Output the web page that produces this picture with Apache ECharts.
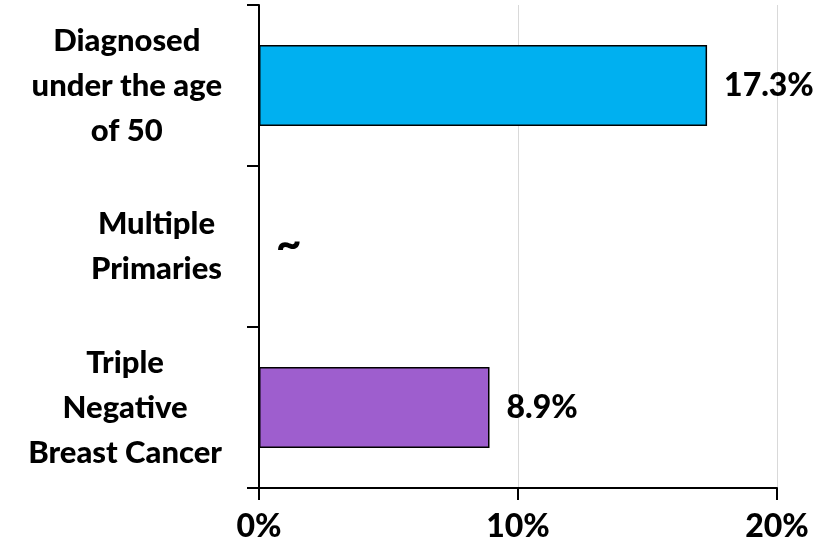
<!DOCTYPE html>
<html>
<head>
<meta charset="utf-8">
<script src="https://cdn.jsdelivr.net/npm/echarts@6/dist/echarts.min.js"></script>
<style>
  html, body { margin: 0; padding: 0; background: #fff; }
  #chart { width: 825px; height: 553px; }
</style>
</head>
<body>
<div id="chart"></div>
<script>
// Categories, top to bottom
const categories = [
  'Diagnosed\nunder the age\nof 50',
  'Multiple\nPrimaries',
  'Triple\nNegative\nBreast Cancer'
];
// Percent values per category (0 where the figure is suppressed)
const values = [17.3, 0, 8.9];
// Suppressed figures are shown as "~"
const suppressed = [false, true, false];
const barColors = ['#00B0F0', '#FFFFFF', '#9E5ECE'];
const xTicks = { min: 0, max: 20, interval: 10 };

const FONT = 'Lato, "Open Sans", sans-serif';
const WEIGHT = 900;

const chart = echarts.init(document.getElementById('chart'), null, { renderer: 'canvas' });

chart.setOption({
  animation: false,
  backgroundColor: '#ffffff',
  grid: { left: 259, right: 48, top: 5, bottom: 65, containLabel: false, outerBoundsMode: 'none' },
  xAxis: {
    type: 'value',
    min: xTicks.min,
    max: xTicks.max,
    interval: xTicks.interval,
    axisLine: { show: true, lineStyle: { color: '#000', width: 2 } },
    axisTick: { show: true, length: 12, lineStyle: { color: '#000', width: 2 } },
    splitLine: { show: true, lineStyle: { color: '#D9D9D9', width: 1 } },
    axisLabel: {
      formatter: v => v + '%',
      margin: 23,
      color: '#000',
      fontFamily: FONT,
      fontWeight: WEIGHT,
      fontSize: 32
    }
  },
  yAxis: {
    type: 'category',
    inverse: true,
    data: categories,
    axisLine: { show: true, lineStyle: { color: '#000', width: 2 } },
    axisTick: { show: true, length: 12, alignWithLabel: false, lineStyle: { color: '#000', width: 2 } },
    splitLine: { show: false },
    axisLabel: {
      margin: 37,
      align: 'right',
      formatter: v => v.split('\n').map(s => '{c|' + s + '}').join('\n'),
      rich: {
        c: {
          align: 'center',
          color: '#000',
          fontFamily: FONT,
          fontWeight: WEIGHT,
          fontSize: 31,
          lineHeight: 45
        }
      }
    }
  },
  series: [{
    type: 'bar',
    barWidth: 81,
    data: values.map((v, i) => ({
      value: v,
      itemStyle: {
        color: barColors[i],
        borderColor: '#000',
        borderWidth: suppressed[i] ? 0 : 1.5
      }
    })),
    label: {
      show: true,
      position: 'right',
      distance: 17,
      color: '#000',
      fontFamily: FONT,
      fontWeight: WEIGHT,
      fontSize: 32,
      formatter: p => suppressed[p.dataIndex] ? '{t|~}' : p.value.toFixed(1) + '%',
      rich: {
        t: { fontFamily: FONT, fontWeight: WEIGHT, fontSize: 44, color: '#000', padding: [0, 0, 4, 0] }
      }
    }
  }]
});
</script>
</body>
</html>
